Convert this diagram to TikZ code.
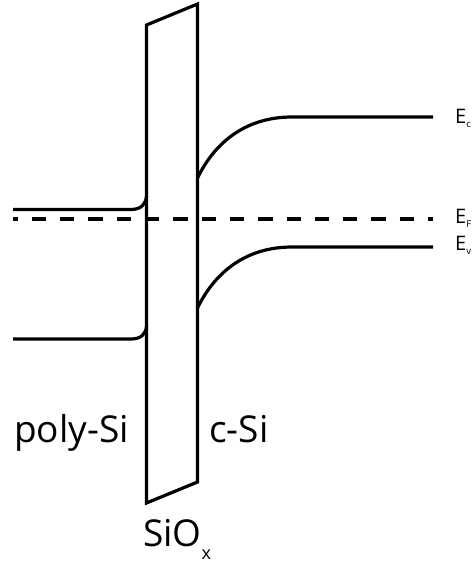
\documentclass[tikz,border=0pt]{standalone}
\usepackage{fontspec}
\setmainfont{Open Sans}
\begin{document}
\begin{tikzpicture}[x=1pt,y=-1pt,
  band/.style={line width=3.2pt,line cap=butt,line join=miter},
  fermi/.style={line width=3.2pt,dash pattern=on 14.3pt off 14pt,dash phase=9.5pt},
  biglabel/.style={font=\fontsize{37}{40}\selectfont,inner sep=0pt,anchor=base west},
  elabel/.style={font=\fontsize{20}{22}\selectfont,inner sep=0pt,anchor=base west}]
\useasboundingbox (0,0) rectangle (472,563);
% oxide barrier
\coordinate (otl) at (146.5,25);
\coordinate (otr) at (197.5,4);
\coordinate (obr) at (197.5,482);
\coordinate (obl) at (146.5,503);
\draw[band] (otl) -- (otr) -- (obr) -- (obl) -- cycle;
% poly-Si bands
\coordinate (pc0) at (13,209.5);
\coordinate (pc1) at (131,209.5);
\coordinate (pc2) at (146.5,196);
\draw[band] (pc0) -- (pc1) .. controls (141,209.5) and (146,204) .. (pc2);
\coordinate (pv0) at (13,339);
\coordinate (pv1) at (131,339);
\coordinate (pv2) at (146.5,326);
\draw[band] (pv0) -- (pv1) .. controls (141,339) and (146,334) .. (pv2);
% c-Si bands
\coordinate (cc0) at (197.5,178);
\coordinate (cc1) at (292,117);
\coordinate (cc2) at (433,117);
\draw[band] (cc0) .. controls (216,140) and (248,117) .. (cc1) -- (cc2);
\coordinate (cv0) at (197.5,308);
\coordinate (cv1) at (292,247);
\coordinate (cv2) at (433,247);
\draw[band] (cv0) .. controls (216,270) and (248,247) .. (cv1) -- (cv2);
% Fermi level
\coordinate (f0) at (13,219);
\coordinate (f1) at (433,219);
\draw[fermi] (f0) -- (f1);
% labels
\node[elabel] (ec) at (455,123) {E\raisebox{-4pt}{\fontsize{9.5}{9.5}\selectfont c}};
\node[elabel] (ef) at (455,223) {E\raisebox{-4pt}{\fontsize{9.5}{9.5}\selectfont F}};
\node[elabel] (ev) at (455,250) {E\raisebox{-4pt}{\fontsize{9.5}{9.5}\selectfont v}};
\node[biglabel] (poly) at (14,442) {poly-Si};
\node[biglabel] (csi) at (209,442) {c-Si};
\node[biglabel] (siox) at (143,546) {SiO\raisebox{-13pt}{\fontsize{18}{18}\selectfont x}};
\end{tikzpicture}
\end{document}
